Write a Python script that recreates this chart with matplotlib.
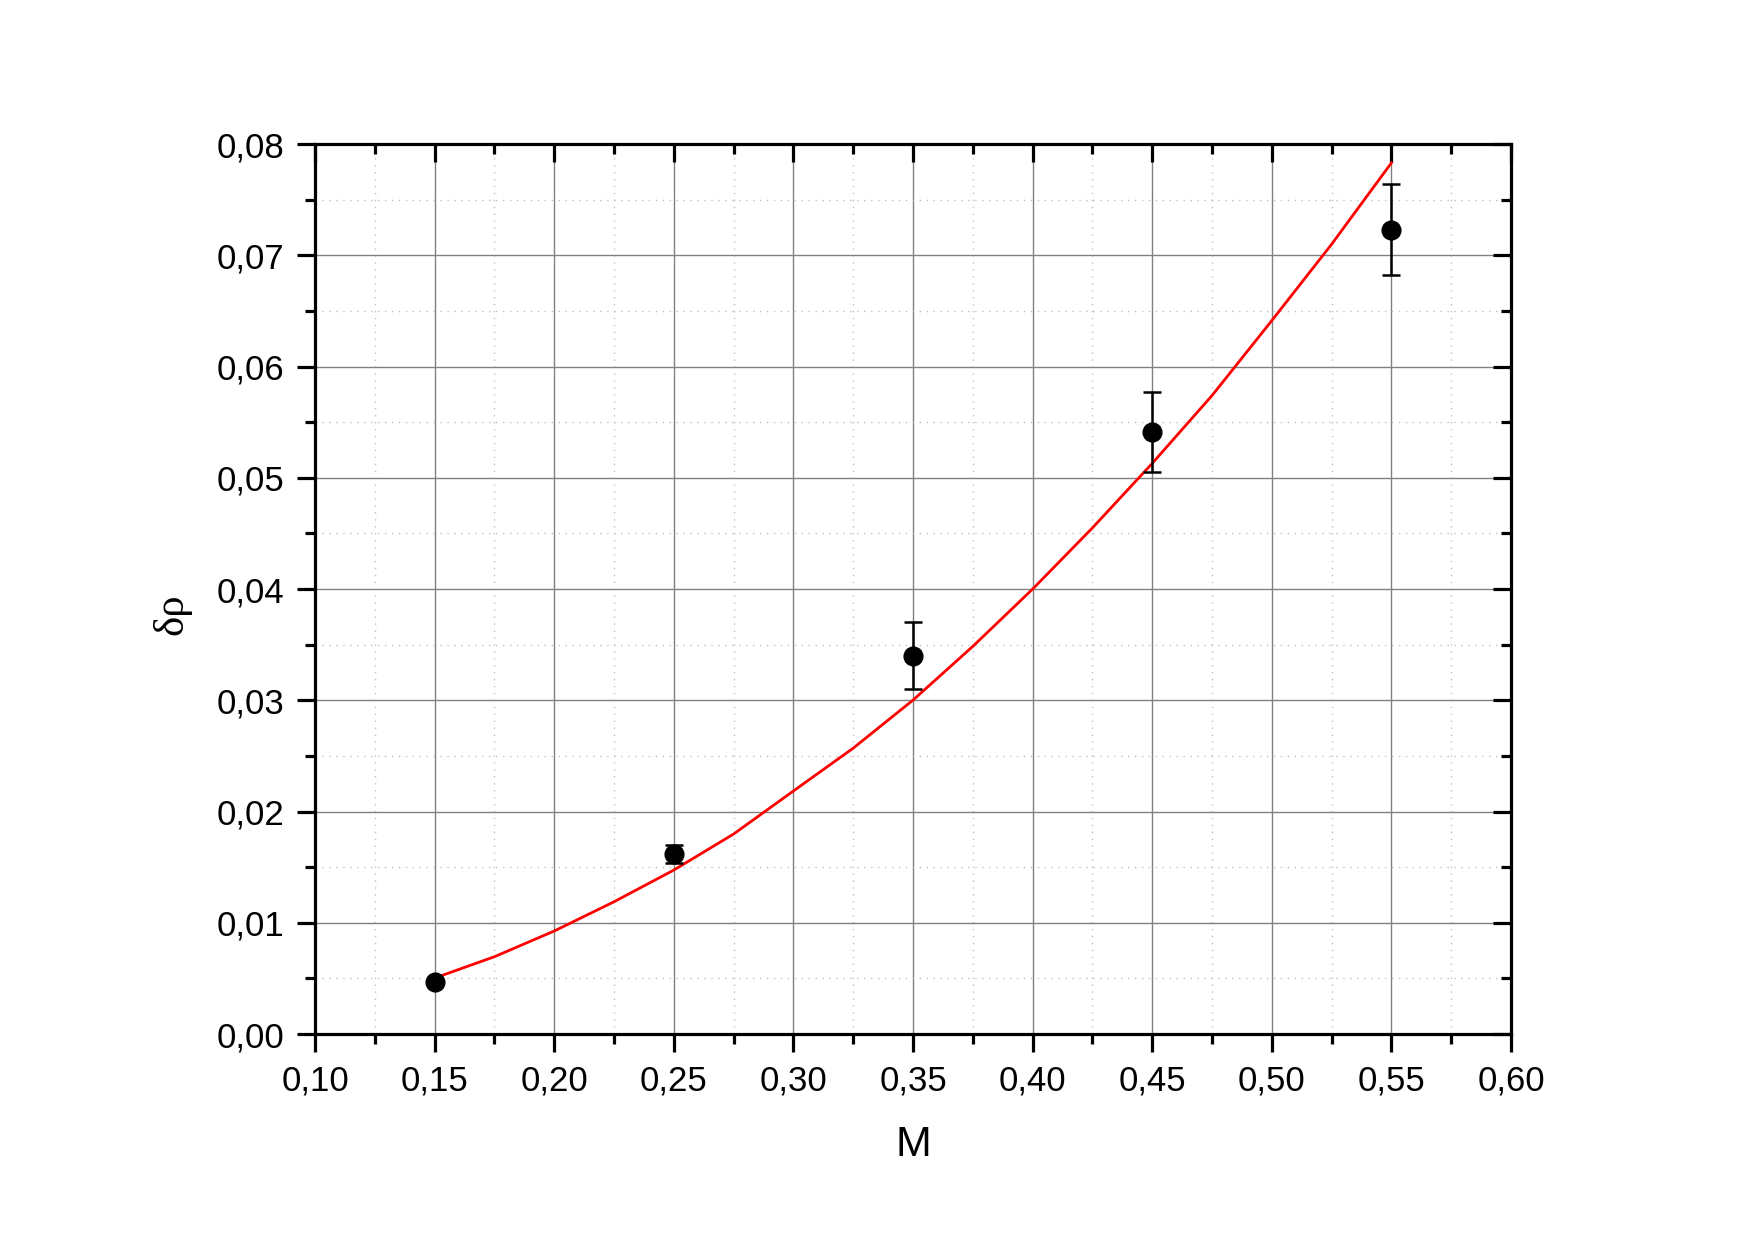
import matplotlib
matplotlib.use("Agg")
import matplotlib.pyplot as plt
from matplotlib.ticker import MultipleLocator, FuncFormatter

# Data points with error bars
M_points = [0.15, 0.25, 0.35, 0.45, 0.55]
drho_points = [0.0047, 0.0162, 0.0340, 0.0541, 0.0723]
drho_err = [0.0002, 0.0008, 0.0030, 0.0036, 0.0041]

# Fitted curve
M_fit = [0.15, 0.175, 0.20, 0.225, 0.25, 0.275, 0.30, 0.325, 0.35, 0.375,
         0.40, 0.425, 0.45, 0.475, 0.50, 0.525, 0.55]
drho_fit = [0.00503, 0.00695, 0.00926, 0.01189, 0.01474, 0.01798, 0.02185,
            0.02570, 0.03002, 0.03485, 0.04000, 0.04550, 0.05130, 0.05740,
            0.06414, 0.07100, 0.07832]

plt.rcParams['font.family'] = ['Liberation Sans', 'DejaVu Sans']

fig = plt.figure(figsize=(17.55, 12.4), dpi=100)
ax = fig.add_axes([0.1795, 0.1661, 0.6815, 0.7177])

ax.plot(M_fit, drho_fit, color='red', lw=2.0, zorder=3, solid_joinstyle='round')
ax.errorbar(M_points, drho_points, yerr=drho_err, fmt='o', color='black',
            ms=13.5, elinewidth=1.8, capsize=6.5, capthick=1.8, zorder=4)

ax.set_xlim(0.10, 0.60)
ax.set_ylim(0.0, 0.08)
ax.xaxis.set_major_locator(MultipleLocator(0.05))
ax.xaxis.set_minor_locator(MultipleLocator(0.025))
ax.yaxis.set_major_locator(MultipleLocator(0.01))
ax.yaxis.set_minor_locator(MultipleLocator(0.005))
ax.xaxis.set_major_formatter(FuncFormatter(lambda v, p: f"{v:.2f}".replace('.', ',')))
ax.yaxis.set_major_formatter(FuncFormatter(lambda v, p: f"{v:.2f}".replace('.', ',')))

ax.grid(which='major', color='#808080', lw=1.0, ls='-', zorder=0)
ax.grid(which='minor', color='#c0c0c0', lw=1.0, ls=(0, (1, 4)), zorder=0)
ax.set_axisbelow(True)

for s in ax.spines.values():
    s.set_linewidth(2.3)

ax.tick_params(which='both', direction='out', width=2.3, labelsize=25, pad=9)
ax.tick_params(which='major', length=13)
ax.tick_params(which='minor', length=7)
ax.tick_params(which='both', top=True, right=True)
# top/right ticks point inward
for t in ax.xaxis.get_major_ticks() + ax.xaxis.get_minor_ticks():
    t.tick2line.set_marker(3)  # TICKDOWN
for t in ax.yaxis.get_major_ticks() + ax.yaxis.get_minor_ticks():
    t.tick2line.set_marker(0)  # TICKLEFT

ax.set_xlabel('M', fontsize=31, labelpad=20)
ax.set_ylabel('δρ', fontsize=31, family=['Liberation Serif', 'DejaVu Serif'])
ax.yaxis.set_label_coords(-0.103, 0.472)

fig.savefig('out.png', dpi=100)
